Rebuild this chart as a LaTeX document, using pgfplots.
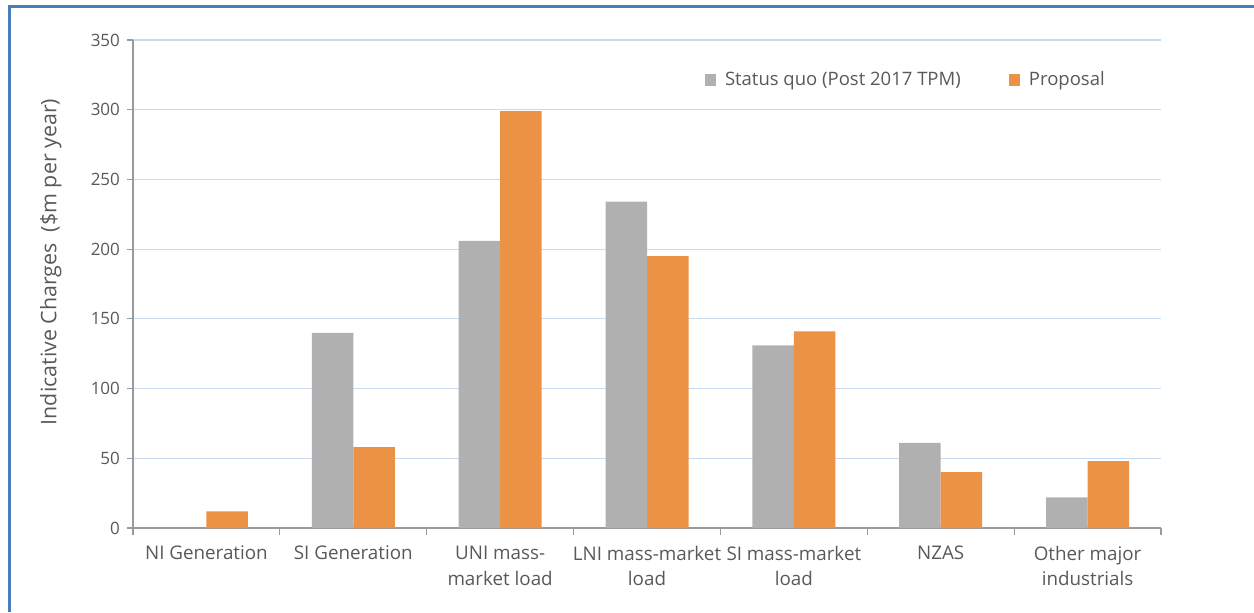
\documentclass[border=0pt]{standalone}
\usepackage{pgfplots}
\pgfplotsset{compat=1.18}
\usepackage{fontspec}
\setmainfont{Open Sans}
\definecolor{sqgray}{HTML}{B0B0B0}
\definecolor{proporange}{HTML}{EC9244}
\definecolor{gridblue}{HTML}{C9DAEF}
\definecolor{axgray}{HTML}{9A9A9A}
\definecolor{txt}{HTML}{595959}
\definecolor{frameblue}{HTML}{4A7EBB}

\pgfplotstableread{
idx status proposal
0   0      12
1   140    58
2   206    299
3   234    195
4   131    141
5   61     40
6   22     48
}\charges

\begin{document}
\begin{tikzpicture}
% page of 627pt x 306pt
\path[use as bounding box] (0pt,0pt) rectangle (627pt,306pt);
\draw[frameblue, line width=1.5pt] (4.5pt,0pt) -- (4.5pt,302.5pt) -- (627pt,302.5pt);
\begin{axis}[
  at={(66.5pt,42pt)}, anchor=south west,
  scale only axis, width=514pt, height=244pt,
  ybar, bar width=20.75pt, ybar=0pt,
  xmin=-0.5, xmax=6.5, ymin=0, ymax=350,
  ytick={0,50,...,350},
  xtick={0,...,6},
  xticklabels={NI Generation, SI Generation, UNI mass-\\market load, LNI mass-market\\load, SI mass-market\\load, NZAS, Other major\\industrials},
  minor xtick={-0.5,0.5,...,6.5},
  major x tick style={draw=none},
  minor tick length=3.5pt, major tick length=3pt,
  tick align=outside,
  tick style={axgray, line width=0.6pt},
  axis x line*=bottom, axis y line*=left,
  axis line style={axgray, line width=0.8pt, -},
  ymajorgrids, grid style={gridblue, line width=0.6pt},
  xticklabel style={align=center, font=\fontsize{9.4}{12.8}\selectfont, text=txt, yshift=-2.5pt},
  yticklabel style={font=\fontsize{8.5}{10}\selectfont, text=txt, xshift=0pt},
  /pgf/number format/assume math mode=true,
  ylabel={Indicative Charges \ (\$m per year)},
  ylabel style={font=\fontsize{10.7}{12}\selectfont, text=txt, at={(axis description cs:-0.08,0.545)}, anchor=center},
  legend style={draw=none, fill=none, at={(axis description cs:0.55,0.918)}, anchor=west,
    font=\fontsize{9.25}{11}\selectfont, text=txt, legend columns=2,
    /tikz/every odd column/.append style={column sep=2.5pt},
    /tikz/every even column/.append style={column sep=22pt}},
  legend image code/.code={\fill[#1] (0pt,-2.8pt) rectangle (5.6pt,2.8pt);},
]
\addplot[fill=sqgray, draw=none] table[x=idx, y=status] {\charges};
\addplot[fill=proporange, draw=none] table[x=idx, y=proposal] {\charges};
\legend{Status quo (Post 2017 TPM), Proposal}
\end{axis}
\end{tikzpicture}
\end{document}
